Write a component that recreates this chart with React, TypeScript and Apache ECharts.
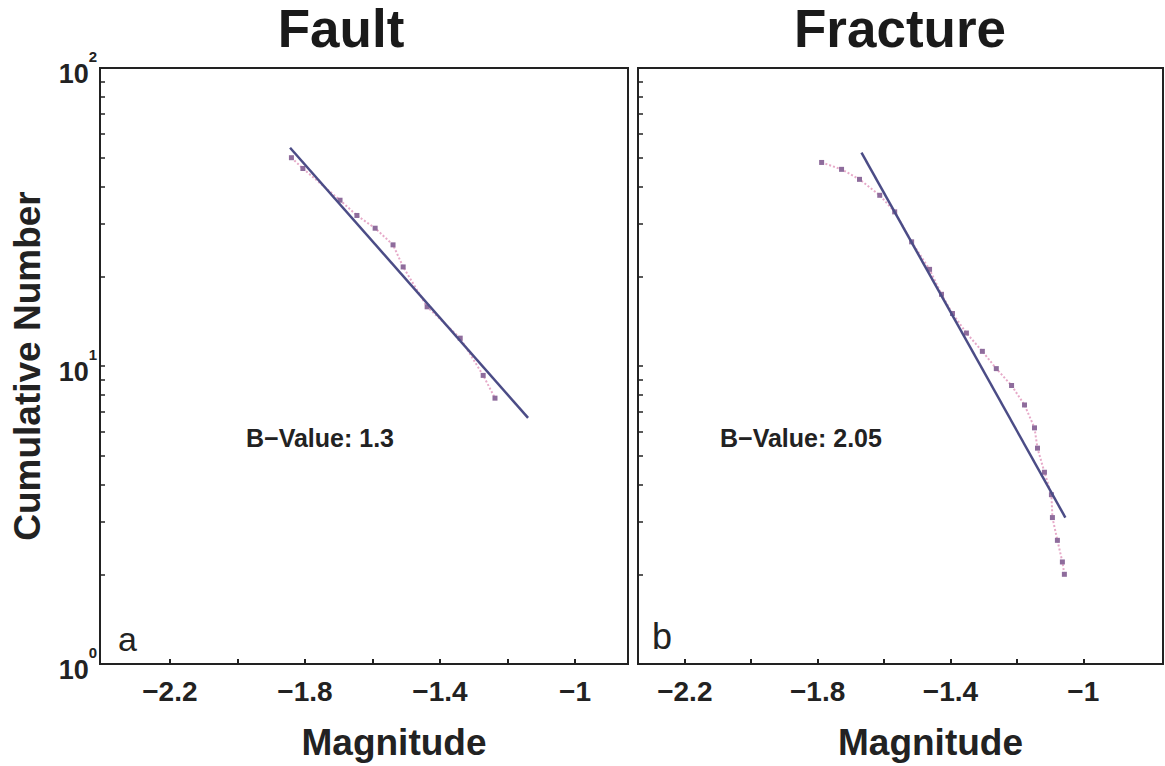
import React, { useEffect, useRef } from "react";
import * as echarts from "echarts";

const panelTitles = ["Fault", "Fracture"];
const panelLetters = ["a", "b"];
const bValueLabels = ["B−Value: 1.3", "B−Value: 2.05"];
const xTickLabels = [-2.2, -1.8, -1.4, -1.0];
const xMinorTicks = [-2.2, -2.0, -1.8, -1.6, -1.4, -1.2, -1.0];
const yTickLabels = [1, 10, 100];
const yTicks = [1, 2, 3, 4, 5, 6, 7, 8, 9, 10, 20, 30, 40, 50, 60, 70, 80, 90, 100];

// Fault panel data (magnitude, cumulative number)
const faultMag = [-1.84, -1.806, -1.696, -1.646, -1.592, -1.539, -1.509, -1.438, -1.34, -1.272, -1.237];
const faultNum = [50, 46, 36, 32, 29, 25.5, 21.5, 15.8, 12.4, 9.3, 7.8];
const faultFitMag = [-1.844, -1.139];
const faultFitNum = [54, 6.7];

// Fracture panel data
const fracMag = [-1.788, -1.728, -1.674, -1.613, -1.568, -1.517, -1.463, -1.427, -1.394, -1.352, -1.304, -1.262, -1.216, -1.177, -1.147, -1.138, -1.117, -1.096, -1.093, -1.078, -1.063, -1.057];
const fracNum = [48.2, 45.7, 42.3, 37.4, 32.9, 26.1, 21.1, 17.4, 15.0, 12.9, 11.2, 9.8, 8.6, 7.4, 6.2, 5.3, 4.4, 3.7, 3.1, 2.6, 2.2, 2.0];
const fracFitMag = [-1.668, -1.054];
const fracFitNum = [52, 3.1];

const FONT = "Liberation Sans, Arial, sans-serif";

function pairs(xs: number[], ys: number[]) {
  return xs.map((x, i) => [x, ys[i]]);
}

export default function App() {
  const ref = useRef<HTMLDivElement>(null);
  useEffect(() => {
    if (!ref.current) return;
    const chart = echarts.init(ref.current, null, { renderer: "svg" });
    const grids = [
      { left: 100, top: 68, width: 528, height: 602 },
      { left: 638, top: 68, width: 525, height: 602 },
    ];
    const xRanges = [
      [-2.407, -0.843],
      [-2.341, -0.76],
    ];
    const fmtX = (v: number) => {
      const r = Math.round(v * 10) / 10;
      if (xTickLabels.some((t) => Math.abs(t - r) < 1e-6) && Math.abs(v - r) < 1e-6) {
        const s = Math.abs(r) === 1 ? "1" : Math.abs(r).toFixed(1);
        return "−" + s;
      }
      return "";
    };
    const xAxes = grids.map((_, i) => ({
      type: "value",
      gridIndex: i,
      min: xRanges[i][0],
      max: xRanges[i][1],
      name: "Magnitude",
      nameLocation: "middle",
      nameGap: 60,
      nameTextStyle: { fontFamily: FONT, fontWeight: "bold", fontSize: 37, color: "#222", padding: [0, 0, 0, 60] },
      axisLine: { show: true, onZero: false, lineStyle: { color: "#222", width: 2 } },
      axisTick: { show: true, inside: true, length: 5, customValues: xMinorTicks, lineStyle: { color: "#222", width: 2 } },
      axisLabel: {
        show: true,
        customValues: xTickLabels,
        formatter: fmtX,
        fontFamily: FONT,
        fontWeight: "bold",
        fontSize: 28,
        color: "#222",
        margin: 13,
      },
      splitLine: { show: false },
    }));
    const yAxes = grids.map((_, i) => ({
      type: "log",
      gridIndex: i,
      logBase: 10,
      min: 1,
      max: 100,
      name: i === 0 ? "Cumulative Number" : "",
      nameLocation: "middle",
      nameGap: 54,
      nameTextStyle: { fontFamily: FONT, fontWeight: "bold", fontSize: 37, color: "#222" },
      axisLine: { show: true, onZero: false, lineStyle: { color: "#222", width: 2 } },
      axisTick: { show: true, inside: true, length: 5, customValues: yTicks, lineStyle: { color: "#222", width: 1.5 } },
      axisLabel: {
        show: i === 0,
        customValues: yTickLabels,
        formatter: (v: number) => {
          const e = Math.round(Math.log10(v));
          return "{b|10}{s|" + e + "}";
        },
        margin: 3,
        rich: {
          b: { fontFamily: FONT, fontWeight: "bold", fontSize: 27, color: "#222", verticalAlign: "bottom", padding: [12, 0, 0, 0] },
          s: { fontFamily: FONT, fontWeight: "bold", fontSize: 15, color: "#222", verticalAlign: "top", padding: [0, 0, 12, 0] },
        },
      },
      splitLine: { show: false },
    }));
    const dataSeries = (idx: number, d: number[][]) => ({
      type: "line",
      xAxisIndex: idx,
      yAxisIndex: idx,
      data: d,
      symbol: "rect",
      symbolSize: 5,
      itemStyle: { color: "#8e6c9c" },
      lineStyle: { color: "#e6a9c8", width: 2, type: "dotted" },
      z: 2,
    });
    const fitSeries = (idx: number, d: number[][]) => ({
      type: "line",
      xAxisIndex: idx,
      yAxisIndex: idx,
      data: d,
      symbol: "none",
      lineStyle: { color: "#4b4c86", width: 2.5 },
      z: 3,
    });
    const titleStyle = { fontFamily: FONT, fontWeight: "bold", fontSize: 53, lineHeight: 56, color: "#1a1a1a" };
    const option = {
      animation: false,
      backgroundColor: "#ffffff",
      grid: grids.map((g) => ({ ...g, show: true, borderColor: "#222", borderWidth: 2, backgroundColor: "transparent", containLabel: false })),
      xAxis: xAxes,
      yAxis: yAxes,
      title: [
        { text: panelTitles[0], left: 341, top: 0, padding: 0, textAlign: "center", textStyle: titleStyle },
        { text: panelTitles[1], left: 900, top: 0, padding: 0, textAlign: "center", textStyle: titleStyle },
      ],
      graphic: [
        { type: "text", left: 246, top: 425, style: { text: bValueLabels[0], font: "bold 25px " + FONT, fill: "#222" } },
        { type: "text", left: 720, top: 425, style: { text: bValueLabels[1], font: "bold 25px " + FONT, fill: "#222" } },
        { type: "text", left: 118, top: 622, style: { text: panelLetters[0], font: "34px " + FONT, fill: "#222" } },
        { type: "text", left: 652, top: 618, style: { text: panelLetters[1], font: "36px " + FONT, fill: "#222" } },
      ],
      series: [
        dataSeries(0, pairs(faultMag, faultNum)),
        fitSeries(0, pairs(faultFitMag, faultFitNum)),
        dataSeries(1, pairs(fracMag, fracNum)),
        fitSeries(1, pairs(fracFitMag, fracFitNum)),
      ],
    };
    chart.setOption(option as any);
    return () => chart.dispose();
  }, []);
  return <div ref={ref} style={{ position: "fixed", left: 0, top: 0, width: 1165, height: 766 }} />;
}
